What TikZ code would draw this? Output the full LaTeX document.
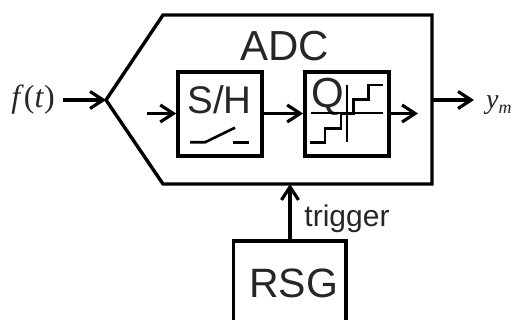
\documentclass[tikz,border=0pt]{standalone}
\usepackage{fontspec}
\setmainfont{Liberation Sans}
\newfontfamily\serifit{Liberation Serif}
\usetikzlibrary{arrows.meta}
\tikzset{
  thick line/.style={line width=3.4pt,line join=miter},
  thin line/.style={line width=2.2pt},
  conn/.style={line width=3.2pt,-{Straight Barb[length=13pt,width=17pt,line width=3.2pt]}},
  block/.style={draw,line width=3.4pt,minimum width=84pt,minimum height=84pt,inner sep=0pt},
  lbl/.style={inner sep=0pt,text=black!85}
}
\begin{document}
\begin{tikzpicture}[x=1pt,y=-1pt]
\useasboundingbox (0,0) rectangle (516,320);
% ADC outline
\coordinate (tip) at (106,100);
\coordinate (adcout) at (432,100);
\coordinate (adcbot) at (290,184);
\draw[thick line] (tip) -- (163,15) -- (432,15) -- (adcout) -- (432,184) -- (163,184) -- cycle;
\node[lbl,font=\fontsize{42}{42}\selectfont] (adc) at (284.5,46) {ADC};
% blocks
\node[block] (sh) at (219.9,114) {};
\node[block] (q) at (346.8,114) {};
\node[lbl,font=\fontsize{38.5}{38.5}\selectfont] (shl) at (219.5,100) {S/H};
\node[lbl,font=\fontsize{42}{42}\selectfont] (ql) at (328,97) {Q};
% switch
\draw[thin line,line width=2.6pt] (190,142.3) -- (205,142.3) -- (235,127.7);
\draw[thin line,line width=2.6pt] (232.7,142.3) -- (249.3,142.3);
% quantizer
\draw[thin line] (311,113.3) -- (382.5,113.3);
\draw[thin line] (347,85) -- (347,142.5);
\draw[thin line,line width=2.6pt] (310,142.3) -- (325,142.3) -- (325,128.3) -- (341,128.3) -- (341,113.3) -- (353.3,113.3) -- (353.3,99.3) -- (368.3,99.3) -- (368.3,85) -- (383.3,85);
% connectors
\coordinate (fstart) at (63,100);
\coordinate (shin) at (147,113.5);
\coordinate (qout) at (418,113.5);
\coordinate (yend) at (474,100);
\draw[conn] (fstart) -- (tip);
\draw[conn] (shin) -- (sh.west |- shin);
\draw[conn] (sh.east |- shin) -- (q.west |- shin);
\draw[conn] (q.east |- shin) -- (qout);
\draw[conn] (adcout) -- (yend);
% RSG
\coordinate (rsgtop) at (290,241);
\draw[thick line] (233.5,322) -- (233.5,241) -- (346,241) -- (346,322);
\node[lbl,font=\fontsize{41}{41}\selectfont] (rsg) at (293.5,283) {RSG};
\draw[conn] (rsgtop) -- (adcbot);
\node[lbl,font=\fontsize{30}{30}\selectfont] (trig) at (347,219) {trigger};
% signals
\node[lbl,font=\serifit\itshape\fontsize{32}{32}\selectfont] (ft) at (33,100) {f\textup{(}t\textup{)}};
\node[lbl,font=\serifit\itshape\fontsize{28}{28}\selectfont,anchor=base west] (ym) at (486,109) {y\raisebox{-5pt}{\fontsize{18}{18}\selectfont m}};
\end{tikzpicture}
\end{document}
